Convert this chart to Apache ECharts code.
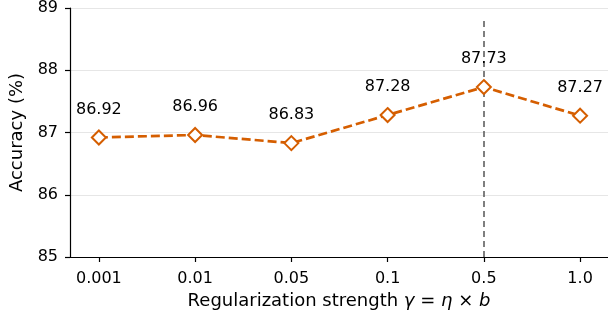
<!DOCTYPE html>
<html>
<head>
<meta charset="utf-8">
<script src="https://cdn.jsdelivr.net/npm/echarts@6/dist/echarts.min.js"></script>
<style>
  html, body { margin: 0; padding: 0; background: #fff; }
  #main { width: 608px; height: 321px; }
</style>
</head>
<body>
<div id="main"></div>
<script>
const categories = ["0.001", "0.01", "0.05", "0.1", "0.5", "1.0"];
const accuracy = [86.92, 86.96, 86.83, 87.28, 87.73, 87.27];
const yTicks = [85, 86, 87, 88, 89];
const bestIndex = 4;

const font = "DejaVu Sans";
const orange = "#d55e00";

function chartOption() {
  return {
    animation: false,
    grid: { left: 70, right: 0, top: 5, bottom: 64 },
    xAxis: {
      type: "value",
      min: -0.3,
      max: categories.length - 1 + 0.29,
      name: "{n|Regularization strength }{i|γ}{n| = }{i|η}{n| × }{i|b}",
      nameLocation: "middle",
      nameGap: 35,
      nameTextStyle: {
        rich: {
          n: { fontFamily: font, fontSize: 18, color: "#000" },
          i: { fontFamily: font, fontSize: 18, fontStyle: "italic", color: "#000" },
        },
      },
      axisLine: { onZero: false, lineStyle: { color: "#000", width: 1.2 } },
      axisTick: {
        length: 5,
        customValues: categories.map((c, i) => i),
        lineStyle: { color: "#000", width: 1.2 },
      },
      axisLabel: {
        customValues: categories.map((c, i) => i),
        formatter: (v) => categories[Math.round(v)],
        fontFamily: font,
        fontSize: 16,
        color: "#000",
        margin: 14,
      },
      splitLine: { show: false },
    },
    yAxis: {
      type: "value",
      min: yTicks[0],
      max: yTicks[yTicks.length - 1],
      interval: 1,
      name: "Accuracy (%)",
      nameLocation: "middle",
      nameGap: 44,
      nameTextStyle: { fontFamily: font, fontSize: 18, color: "#000" },
      axisLine: { show: true, onZero: false, lineStyle: { color: "#000", width: 1.2 } },
      axisTick: { show: true, length: 5, lineStyle: { color: "#000", width: 1.2 } },
      axisLabel: { fontFamily: font, fontSize: 16, color: "#000", margin: 12 },
      splitLine: { show: true, lineStyle: { color: "#e6e6e6", width: 1 } },
    },
    series: [
      {
        type: "line",
        data: accuracy.map((v, i) => [i, v]),
        symbol: "diamond",
        symbolSize: 14,
        lineStyle: { color: orange, width: 2.7, type: [9, 4] },
        itemStyle: { color: "#fff", borderColor: orange, borderWidth: 2 },
        label: {
          show: true,
          position: "top",
          distance: 12,
          formatter: (p) => p.value[1].toFixed(2),
          fontFamily: font,
          fontSize: 16,
          color: "#000",
        },
        markLine: {
          silent: true,
          symbol: "none",
          label: { show: false },
          lineStyle: { color: "#555", width: 1.5, type: [6, 4] },
          data: [[{ coord: [bestIndex, 85] }, { coord: [bestIndex, 88.84] }]],
          z: 1,
        },
        z: 3,
      },
    ],
  };
}

addEventListener("load", () => {
  const chart = echarts.init(document.getElementById("main"));
  chart.setOption(chartOption());
});
</script>
</body>
</html>
